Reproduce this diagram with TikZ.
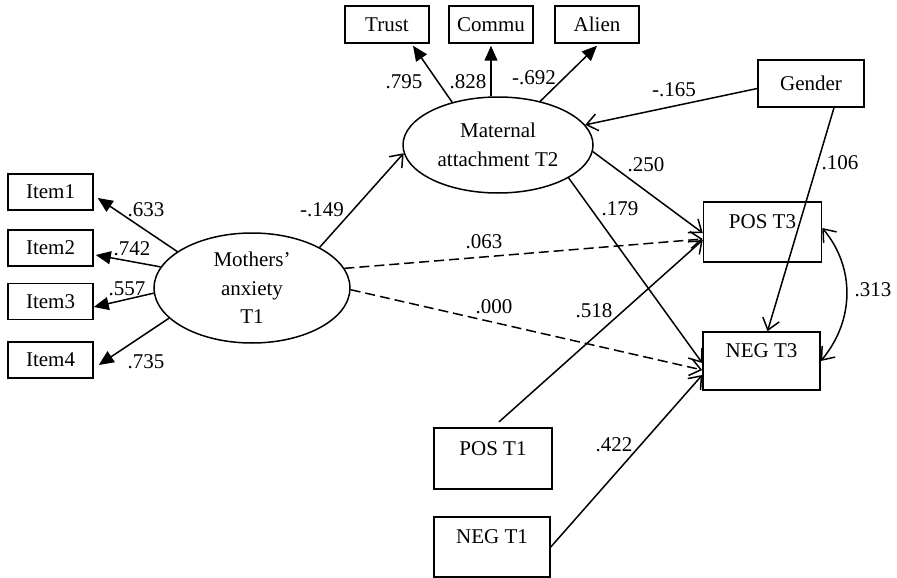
\documentclass[tikz,border=0pt]{standalone}
\usepackage{fontspec}
\setmainfont{Liberation Serif}
\usetikzlibrary{arrows.meta,shapes.geometric}
\begin{document}
\begin{tikzpicture}[x=1pt,y=-1pt,
  every node/.style={font=\fontsize{21}{28.5}\selectfont},
  box/.style={draw,line width=1.5pt,rectangle,inner sep=0pt},
  itembox/.style={box,minimum width=85pt,minimum height=36pt},
  topbox/.style={box,minimum width=84pt,minimum height=37pt},
  varbox/.style={box,minimum width=118pt,minimum height=60pt,text height=14pt,text depth=21pt},
  lat/.style={draw,ellipse,line width=1.5pt,inner sep=0pt,align=center},
  loadarr/.style={line width=1.5pt,-{Triangle[length=15pt,width=13pt]}},
  spath/.style={line width=1.5pt,-{Straight Barb[length=11pt,width=17pt]}},
  dpath/.style={spath,dash pattern=on 10pt off 5pt},
  darr/.style={line width=1.5pt,{Straight Barb[length=11pt,width=17pt]}-{Straight Barb[length=11pt,width=17pt]}},
  lbl/.style={inner sep=0pt}]
\useasboundingbox (0,0) rectangle (897,578);
% latent variables
\node[lat,minimum width=196pt,minimum height=110pt] (ma) at (252,288) {Mothers’\\anxiety\\T1};
\node[lat,minimum width=190pt,minimum height=96pt] (mat) at (498,145) {Maternal\\attachment T2};
% indicators
\node[itembox] (it1) at (50.5,192) {Item1};
\node[itembox] (it2) at (50.5,248) {Item2};
\node[itembox] (it3) at (50.5,301.5) {Item3};
\node[itembox] (it4) at (50.5,360) {Item4};
\node[topbox] (tru) at (387,24.5) {Trust};
\node[topbox] (com) at (491,24.5) {Commu};
\node[topbox] (ali) at (597,24.5) {Alien};
% observed
\node[box,minimum width=106pt,minimum height=47pt] (gen) at (811,83.5) {Gender};
\node[varbox] (pos3) at (762.5,232) {POS T3};
\node[varbox,minimum width=117pt,minimum height=58pt] (neg3) at (761.5,361) {NEG T3};
\node[varbox,minimum height=61pt] (pos1) at (493,458.5) {POS T1};
\node[varbox,minimum width=116pt] (neg1) at (492,547) {NEG T1};
% loadings
\draw[loadarr] (ma.154) -- ([shift={(4pt,-6pt)}]it1.east);
\draw[loadarr] (ma.167) -- ([shift={(2pt,-7pt)}]it2.east);
\draw[loadarr] (ma.183) -- ([shift={(0pt,-5.5pt)}]it3.east);
\draw[loadarr] (ma.200) -- ([shift={(5pt,-5pt)}]it4.east);
\draw[loadarr] (mat.137.5) -- ([shift={(26pt,-2pt)}]tru.south);
\draw[loadarr] (mat.north -| com.south) -- ([yshift=-2pt]com.south);
\draw[loadarr] (mat.46) -- ([yshift=-2pt]ali.south);
% structural paths
\draw[spath] (ma.31) -- (mat.185);
\draw[spath] ([yshift=-5pt]gen.west) -- (mat.13);
\draw[spath] ([xshift=23pt]gen.south) -- ([xshift=6pt]neg3.north);
\draw[spath] (mat.-4) -- ([yshift=-1pt]pos3.west);
\draw[spath] (mat.-25) -- ([yshift=-2pt]neg3.west);
\draw[dpath] (ma.12) -- ([yshift=-7pt]pos3.west);
\draw[dpath] (ma.-1) -- ([yshift=-9pt]neg3.west);
\draw[spath,shorten <=8pt] (pos1.north) -- ([yshift=-8pt]pos3.west);
\draw[spath] (neg1.east) -- ([yshift=-14pt]neg3.west);
\draw[darr] ([yshift=4pt]pos3.east) to[out=-50,in=50] (neg3.east);
% labels
\node[lbl] (l633) at (146,210) {.633};
\node[lbl] (l742) at (132,249) {.742};
\node[lbl] (l557) at (127,289) {.557};
\node[lbl] (l735) at (146,362) {.735};
\node[lbl] (l149) at (322,210) {-.149};
\node[lbl] (l795) at (404,82) {.795};
\node[lbl] (l828) at (468,82) {.828};
\node[lbl] (l692) at (534,78) {-.692};
\node[lbl] (l165) at (674,90) {-.165};
\node[lbl] (l106) at (840,163) {.106};
\node[lbl] (l250) at (646,165) {.250};
\node[lbl] (l179) at (620,209) {.179};
\node[lbl] (l063) at (484,242) {.063};
\node[lbl] (l000) at (494,307) {.000};
\node[lbl] (l518) at (594,311) {.518};
\node[lbl] (l422) at (614,445) {.422};
\node[lbl] (l313) at (873,290) {.313};
\end{tikzpicture}
\end{document}
